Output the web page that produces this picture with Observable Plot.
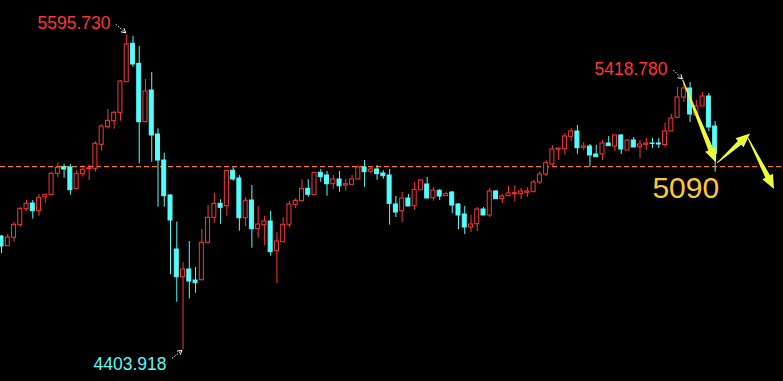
<!DOCTYPE html>
<html><head><meta charset="utf-8">
<script src="https://cdn.jsdelivr.net/npm/d3@7"></script>
<script src="https://cdn.jsdelivr.net/npm/@observablehq/plot@0.6"></script>
<style>html,body{margin:0;padding:0;background:#000;overflow:hidden}</style>
</head><body><div id="chart"></div>
<script>
const open = [4832.6,4795.9,4827.7,4875.4,4935.9,4957.4,4928.3,4981.3,4988.9,5069.8,
5094.8,5093.7,5011.6,5068.3,5087.2,5088.7,5179.5,5246.1,5268.8,5300.6,
5416.4,5561.7,5486.0,5265.0,5385.0,5218.5,5120.1,4987.7,4783.4,4678.6,
4707.7,4666.1,4667.2,4808.8,4903.3,4956.3,4947.2,5081.2,5052.0,4901.8,
4968.8,4860.2,4875.4,4889.3,4777.0,4811.0,4876.9,4952.5,4966.2,5013.1,
4988.9,5073.6,5063.4,5030.5,5048.3,5025.6,5028.2,5048.3,5093.7,5077.4,
5086.1,5071.0,5063.4,4953.7,4928.3,4976.4,4947.2,5007.8,5029.3,4977.5,
5005.5,4985.1,4999.1,4953.7,4915.8,4866.6,4879.1,4934.7,4912.0,5002.9,
4973.7,4985.1,4992.6,4992.6,4997.9,5000.2,5036.9,5067.2,5105.0,5160.6,
5162.9,5209.8,5229.9,5168.2,5173.1,5142.8,5142.8,5184.5,5173.1,5214.7,
5158.0,5195.8,5170.5,5179.5,5184.5,5184.5,5178.8,5229.9,5281.7,5358.5,
5392.6,5290.4,5324.4,5362.3,5248.8];
const high = [4836.4,4840.2,4885.6,4941.2,4968.8,4968.8,4991.5,4991.5,5074.7,5111.4,
5105.0,5105.0,5081.2,5101.2,5103.9,5190.9,5254.5,5313.1,5305.5,5422.8,
5595.73,5590.0,5551.5,5426.6,5453.1,5240.1,5147.8,4990.0,4886.7,4733.1,
4813.7,4715.3,4859.1,4949.9,4996.4,4971.4,5082.0,5092.5,5063.4,4980.2,
5025.6,4946.1,4908.3,4928.3,4847.7,4903.3,4965.0,4975.2,5047.1,5047.1,
5073.6,5086.1,5078.5,5063.4,5078.5,5048.3,5063.4,5100.1,5120.1,5096.3,
5101.2,5081.2,5086.1,4983.9,4999.1,4991.5,5036.9,5048.3,5055.8,5018.0,
5010.4,5000.2,5002.9,4957.4,4946.1,4912.0,4942.3,4942.3,5014.2,5006.6,
4991.5,5021.8,5025.6,5014.2,5018.0,5044.5,5077.4,5120.1,5176.9,5165.5,
5222.3,5241.2,5252.6,5188.2,5180.7,5176.9,5195.8,5210.9,5214.7,5218.5,
5199.6,5207.2,5195.8,5203.4,5203.4,5203.4,5262.0,5294.2,5396.3,5418.78,
5415.3,5347.2,5377.4,5373.6,5267.7];
const low = [4768.3,4794.8,4811.0,4867.8,4928.3,4898.0,4909.4,4958.6,4987.7,5054.7,
5053.2,4988.9,5010.4,5057.0,5044.5,5075.9,5155.3,5238.6,5238.6,5268.8,
5415.3,5473.1,5107.7,5263.0,5113.7,4943.5,4943.5,4687.7,4584.0,4403.918,
4596.1,4618.1,4665.0,4806.0,4882.9,4878.0,4909.4,5041.8,4852.6,4870.4,
4788.3,4826.2,4798.6,4758.1,4653.6,4811.0,4865.5,4937.4,4966.2,4981.3,
4988.9,5038.0,4985.1,5010.4,5000.2,5004.0,5028.2,5048.3,5019.1,5068.3,
5045.6,5049.4,4875.4,4904.5,4885.6,4946.1,4931.0,5007.8,4976.4,4966.2,
4968.8,4985.1,4919.6,4859.1,4840.2,4847.7,4851.5,4912.0,4904.5,4973.7,
4957.4,4985.1,4962.4,4972.6,4980.2,5000.2,5029.3,5059.6,5094.8,5120.1,
5140.2,5192.0,5144.0,5158.0,5094.8,5132.6,5120.1,5174.2,5154.2,5142.8,
5158.0,5169.3,5127.7,5158.0,5165.5,5165.5,5169.3,5229.9,5279.0,5339.6,
5263.9,5290.4,5324.4,5229.9,5075.9];
const close = [4794.8,4828.8,4876.9,4937.4,4956.3,4928.3,4979.0,4990.4,5069.8,5092.5,
5086.1,5007.8,5069.8,5085.0,5091.0,5183.3,5248.8,5270.3,5300.6,5419.0,
5559.0,5483.4,5265.0,5381.2,5214.7,5120.1,4985.1,4893.1,4678.6,4707.7,
4662.3,4655.9,4808.8,4903.3,4956.3,4941.2,5081.2,5048.3,4901.8,4967.7,
4860.2,4878.0,4889.3,4773.2,4813.7,4876.9,4953.7,4967.7,5013.1,4990.4,
5073.6,5057.0,5030.5,5048.3,5022.9,5030.5,5048.3,5093.7,5075.9,5086.1,
5068.3,5060.7,4956.3,4923.4,4976.4,4946.1,5009.3,5044.5,4976.4,5006.6,
4983.9,4992.6,4949.9,4912.0,4866.6,4878.0,4934.7,4912.0,5002.9,4973.7,
4983.9,4995.3,4996.4,5002.9,5002.9,5036.9,5067.2,5109.9,5161.8,5165.5,
5210.9,5229.9,5166.7,5173.1,5139.1,5132.6,5184.5,5174.2,5214.7,5161.8,
5195.8,5169.3,5180.7,5184.5,5182.8,5180.7,5229.9,5279.0,5358.5,5392.6,
5294.2,5324.4,5362.3,5245.0,5145.5];

const level = 5097;          // dashed support line
const levelLabel = "5090";
// yellow projection arrows: [startIndex, startPrice, endIndex, endPrice]
const pathArrows = [
  [108.9, 5422.8, 114.22, 5110.7],
  [114.38, 5108.8, 119.65, 5220.4],
  [119.33, 5203.4, 123.48, 5010.4]
];

const RED = "#ff3535", CYAN = "#54fcfc", ORANGE = "#ff7414", YELLOW = "#ecfa3c", GOLD = "#fcc834";
const FONT = "'Liberation Sans', Arial, sans-serif";

const candles = open.map((o, i) => ({i, open: o, high: high[i], low: low[i], close: close[i], up: close[i] >= o}));

const iHigh = d3.maxIndex(high);
const iLow = d3.minIndex(low);
const iHigh2 = 60 + d3.maxIndex(high.slice(60));
const labels = [
  {i: iHigh, v: high[iHigh], color: RED, dx: -16.2, dy: -11.6},
  {i: iHigh2, v: high[iHigh2], color: RED, dx: -16.3, dy: -12.6},
  {i: iLow, v: low[iLow], color: CYAN, dx: -16.5, dy: 14.4}
];

const plot = Plot.plot({
  width: 783, height: 381, margin: 0,
  style: {background: "#000"},
  x: {type: "linear", domain: [-0.16, 124.92], axis: null},
  y: {domain: [4284, 5725.5], axis: null},
  color: {type: "identity"},
  marks: [
    Plot.ruleY([level], {stroke: ORANGE, strokeDasharray: "5,3", strokeWidth: 1.2}),
    Plot.ruleX(candles, {x: "i", y1: "low", y2: "high", stroke: d => d.up ? RED : CYAN}),
    Plot.rect(candles, {x1: d => d.i - 0.32, x2: d => d.i + 0.32, y1: "open", y2: "close",
      fill: d => d.up ? "#000" : CYAN, stroke: d => d.up ? RED : CYAN, strokeWidth: 1}),
    ...labels.map(l => Plot.text([l], {x: "i", y: "v", text: d => d.v.toFixed(3), fill: l.color,
      fontSize: 17.5, fontFamily: FONT, textAnchor: "end", dx: l.dx, dy: l.dy})),
    Plot.text([{i: open.length - 1, v: level}], {x: "i", y: "v", text: () => levelLabel, fill: GOLD,
      fontSize: 30, fontFamily: FONT, textAnchor: "end", dx: 4, dy: 21.4})
  ]
});
document.getElementById("chart").appendChild(plot);

// annotation arrows, placed through the plot's scales
const sx = plot.scale("x"), sy = plot.scale("y");
const X = v => sx.apply(v), Y = v => sy.apply(v);
const svg = d3.select(plot);
const g = svg.append("g");

function taper(x0, y0, x1, y1, s0, s1, h, w) {
  const dx = x1 - x0, dy = y1 - y0, len = Math.hypot(dx, dy);
  const ux = dx / len, uy = dy / len, nx = -uy, ny = ux;
  const bx = x1 - ux * h, by = y1 - uy * h;
  const pts = [
    [x0 + nx * s0, y0 + ny * s0], [bx + nx * s1, by + ny * s1], [bx + nx * w, by + ny * w],
    [x1, y1], [bx - nx * w, by - ny * w], [bx - nx * s1, by - ny * s1], [x0 - nx * s0, y0 - ny * s0]
  ];
  return "M" + pts.map(p => p.join(",")).join("L") + "Z";
}
for (const [a, b, c, d] of pathArrows) {
  g.append("path").attr("d", taper(X(a), Y(b), X(c), Y(d), 0.5, 2.6, 14, 6)).attr("fill", YELLOW);
}

// white dotted callout arrows at the extremes
const callouts = [
  {i: iHigh, v: high[iHigh], s: [-10.5, -10], e: [-0.5, -1.5]},
  {i: iHigh2, v: high[iHigh2], s: [-10, -11], e: [-1, -2]},
  {i: iLow, v: low[iLow], s: [-10.5, 9], e: [-0.5, 1]}
];
for (const c of callouts) {
  const px = X(c.i), py = Y(c.v);
  const x0 = px + c.s[0], y0 = py + c.s[1], x1 = px + c.e[0], y1 = py + c.e[1];
  g.append("line").attr("x1", x0).attr("y1", y0).attr("x2", x1).attr("y2", y1)
    .attr("stroke", "#fff").attr("stroke-width", 1).attr("stroke-dasharray", "1.5,1.5");
  const ang = Math.atan2(y1 - y0, x1 - x0);
  for (const s of [-1, 1]) {
    const a2 = ang + Math.PI + s * 0.5;
    g.append("line").attr("x1", x1).attr("y1", y1)
      .attr("x2", x1 + 5 * Math.cos(a2)).attr("y2", y1 + 5 * Math.sin(a2))
      .attr("stroke", "#fff").attr("stroke-width", 1);
  }
}
</script>
</body></html>
